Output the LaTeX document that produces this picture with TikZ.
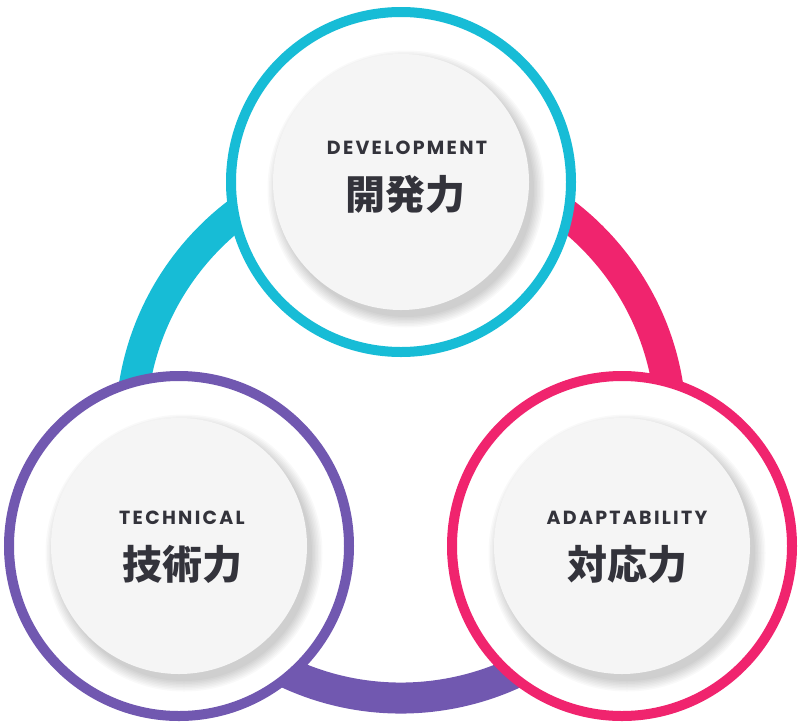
\documentclass[tikz,border=0pt]{standalone}
\usepackage{fontspec}
\setmainfont{Poppins}
\newfontfamily\cjk{Noto Sans CJK JP}
\definecolor{cyanC}{HTML}{17BCD6}
\definecolor{pinkC}{HTML}{F0246E}
\definecolor{purpC}{HTML}{7158B0}
\definecolor{txt}{HTML}{33333B}
\definecolor{inner}{HTML}{F5F5F5}
\tikzset{
 outerring/.style={draw=#1, line width=10pt, fill=white},
 band/.style={draw=#1, line width=31pt},
 innerc/.style={fill=inner},
 lbl/.style={text=txt, align=center, font=\bfseries\fontsize{19}{22}\selectfont\addfontfeatures{LetterSpace=12}},
 jp/.style={text=txt, font=\cjk\bfseries\fontsize{40}{44}\selectfont}
}
\begin{document}
\begin{tikzpicture}[x=1pt,y=-1pt]
\useasboundingbox (0,0) rectangle (800,726);
\coordinate (c) at (401,428);
\draw[band=cyanC] ([shift={(-90:270)}]c) arc[start angle=-90,end angle=-210,radius=270];
\draw[band=pinkC] ([shift={(-90:270)}]c) arc[start angle=-90,end angle=30,radius=270];
\draw[band=purpC] ([shift={(30:270)}]c) arc[start angle=30,end angle=150,radius=270];
\foreach \n/\x/\y/\col in {t/401/182/cyanC, l/179/546/purpC, r/622/546/pinkC}{
  \node[circle, outerring=\col, minimum size=340pt, inner sep=0pt] (\n) at (\x,\y) {};
  \foreach \k in {0,...,7}{
    \fill[black, opacity=0.025] (\x+5,\y+7) circle[radius=128+\k*1.5];
  }
  \node[circle, innerc, minimum size=256pt, inner sep=0pt] (\n i) at (\x,\y) {};
}
\node[lbl] (tl) at (407,148) {DEVELOPMENT};
\node[jp] (tj) at (405,194) {開発力};
\node[lbl] (ll) at (182,518) {TECHNICAL};
\node[jp] (lj) at (182,564) {技術力};
\node[lbl] (rl) at (627,518) {ADAPTABILITY};
\node[jp] (rj) at (627,564) {対応力};
\end{tikzpicture}
\end{document}
